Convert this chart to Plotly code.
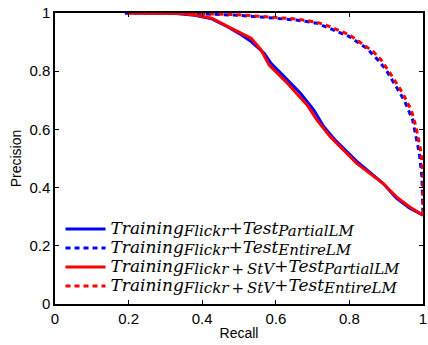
import plotly.graph_objects as go

# Data
blue_solid_recall = [0.19, 0.25, 0.3, 0.336, 0.38, 0.426, 0.47, 0.5, 0.53, 0.569, 0.587, 0.62, 0.667, 0.703, 0.73, 0.76, 0.82, 0.892, 0.927, 0.963, 1.0]
blue_solid_prec = [1.0, 1.0, 1.0, 0.997, 0.992, 0.98, 0.952, 0.93, 0.905, 0.861, 0.827, 0.785, 0.724, 0.667, 0.61, 0.565, 0.49, 0.414, 0.365, 0.33, 0.305]

red_solid_recall = [0.2, 0.25, 0.3, 0.336, 0.38, 0.426, 0.47, 0.5, 0.533, 0.56, 0.582, 0.632, 0.685, 0.712, 0.748, 0.82, 0.892, 0.927, 0.963, 1.0]
red_solid_prec = [1.0, 1.0, 1.0, 0.999, 0.993, 0.982, 0.953, 0.935, 0.913, 0.873, 0.821, 0.758, 0.684, 0.632, 0.575, 0.483, 0.414, 0.369, 0.334, 0.305]

blue_dash_recall = [0.19, 0.3, 0.4, 0.5, 0.6, 0.66, 0.712, 0.75, 0.8, 0.847, 0.878, 0.9, 0.927, 0.949, 0.972, 0.981, 0.99, 0.997, 1.0]
blue_dash_prec = [1.0, 1.0, 0.997, 0.992, 0.982, 0.975, 0.965, 0.945, 0.919, 0.879, 0.838, 0.804, 0.747, 0.70, 0.632, 0.575, 0.518, 0.437, 0.305]

red_dash_recall = [0.2, 0.3, 0.4, 0.5, 0.6, 0.66, 0.712, 0.75, 0.8, 0.824, 0.845, 0.865, 0.887, 0.914, 0.945, 0.968, 0.981, 0.995, 1.0, 1.0]
red_dash_prec = [1.0, 1.0, 0.998, 0.994, 0.986, 0.979, 0.968, 0.952, 0.925, 0.905, 0.885, 0.867, 0.838, 0.787, 0.724, 0.667, 0.609, 0.518, 0.437, 0.305]

tick_vals = [0, 0.2, 0.4, 0.6, 0.8, 1]
tick_text = ["0", "0.2", "0.4", "0.6", "0.8", "1"]


def label(train_sub, test_sub):
    big = "font-size:17px"
    small = "font-size:15px"
    return (f"<span style='{big}'><i>Training</i></span>"
            f"<sub><span style='{small}'><i>{train_sub}</i></span></sub>"
            f"<span style='{big}'>+<i>Test</i></span>"
            f"<sub><span style='{small}'><i>{test_sub}</i></span></sub>")


names = [
    label("Flickr", "PartialLM"),
    label("Flickr", "EntireLM"),
    label("Flickr\u2009+\u2009StV", "PartialLM"),
    label("Flickr\u2009+\u2009StV", "EntireLM"),
]

fig = go.Figure()
fig.add_trace(go.Scatter(x=blue_solid_recall, y=blue_solid_prec, mode="lines", name=names[0],
                         line=dict(color="#0000ff", width=3)))
fig.add_trace(go.Scatter(x=blue_dash_recall, y=blue_dash_prec, mode="lines", name=names[1],
                         line=dict(color="#0000ff", width=3, dash="5px,4px")))
fig.add_trace(go.Scatter(x=red_solid_recall, y=red_solid_prec, mode="lines", name=names[2],
                         line=dict(color="#ff0000", width=3)))
fig.add_trace(go.Scatter(x=red_dash_recall, y=red_dash_prec, mode="lines", name=names[3],
                         line=dict(color="#ff0000", width=3, dash="5px,4px")))

axis_common = dict(
    range=[0, 1], tickvals=tick_vals, ticktext=tick_text,
    showgrid=False, zeroline=False, showline=True, linecolor="black", linewidth=1.5,
    mirror="ticks", ticks="inside", ticklen=4, tickcolor="black",
    ticklabeloverflow="allow",
    tickfont=dict(family="Liberation Sans, Arial, sans-serif", size=15, color="black"),
)

fig.update_layout(
    width=428, height=345,
    margin=dict(l=55, r=1, t=13, b=41),
    paper_bgcolor="white", plot_bgcolor="white",
    showlegend=True,
    legend=dict(x=0.015, y=0.012, xanchor="left", yanchor="bottom",
                bgcolor="rgba(255,255,255,0)", borderwidth=0,
                font=dict(family="DejaVu Serif, Liberation Serif, serif", size=12, color="black"),
                tracegroupgap=0, itemwidth=40),
    xaxis=dict(title=dict(text="Recall", standoff=2,
                          font=dict(family="Liberation Sans, Arial, sans-serif", size=14, color="black")),
               **axis_common),
    yaxis=dict(title=dict(text="Precision", standoff=4,
                          font=dict(family="Liberation Sans, Arial, sans-serif", size=14, color="black")),
               **axis_common),
)

fig.write_html("out.html")
